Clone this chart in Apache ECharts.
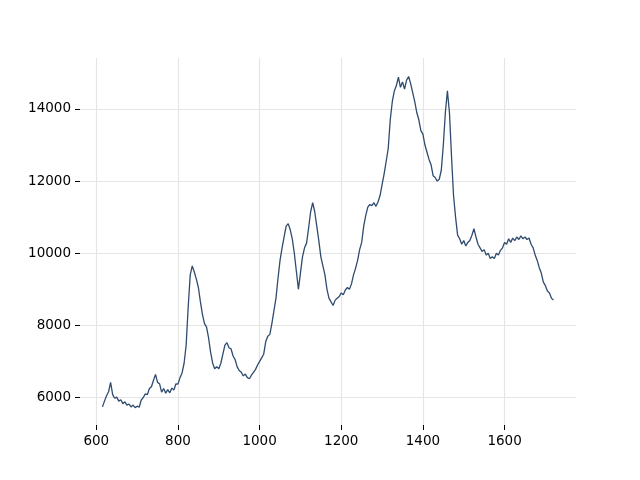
<!DOCTYPE html>
<html><head><meta charset="utf-8">
<script src="https://cdn.jsdelivr.net/npm/echarts@6/dist/echarts.min.js"></script>
<style>html,body{margin:0;padding:0;background:#fff}#c{width:640px;height:480px}</style>
</head><body><div id="c"></div>
<script>
var xValues = [
615,620,625,630,635,640,645,650,655,660,
665,670,675,680,685,690,695,700,705,710,
715,720,725,730,735,740,745,750,755,760,
765,770,775,780,785,790,795,800,805,810,
815,820,825,830,835,840,845,850,855,860,
865,870,875,880,885,890,895,900,905,910,
915,920,925,930,935,940,945,950,955,960,
965,970,975,980,985,990,995,1000,1005,1010,
1015,1020,1025,1030,1035,1040,1045,1050,1055,1060,
1065,1070,1075,1080,1085,1090,1095,1100,1105,1110,
1115,1120,1125,1130,1135,1140,1145,1150,1155,1160,
1165,1170,1175,1180,1185,1190,1195,1200,1205,1210,
1215,1220,1225,1230,1235,1240,1245,1250,1255,1260,
1265,1270,1275,1280,1285,1290,1295,1300,1305,1310,
1315,1320,1325,1330,1335,1340,1345,1350,1355,1360,
1365,1370,1375,1380,1385,1390,1395,1400,1405,1410,
1415,1420,1425,1430,1435,1440,1445,1450,1455,1460,
1465,1470,1475,1480,1485,1490,1495,1500,1505,1510,
1515,1520,1525,1530,1535,1540,1545,1550,1555,1560,
1565,1570,1575,1580,1585,1590,1595,1600,1605,1610,
1615,1620,1625,1630,1635,1640,1645,1650,1655,1660,
1665,1670,1675,1680,1685,1690,1695,1700,1705,1710,
1715,1720
];
var yValues = [
5740,5900,6050,6160,6420,6080,5980,6010,5900,5940,
5830,5880,5790,5820,5740,5790,5720,5760,5730,5930,
6000,6100,6080,6250,6300,6480,6640,6420,6380,6150,
6250,6120,6220,6130,6260,6210,6380,6370,6550,6680,
6950,7450,8500,9400,9650,9480,9280,9050,8650,8300,
8050,7950,7650,7250,6950,6800,6850,6800,6950,7200,
7450,7520,7380,7350,7150,7050,6850,6750,6700,6600,
6650,6550,6520,6620,6700,6780,6900,7000,7100,7200,
7550,7700,7750,8050,8400,8750,9300,9800,10150,10450,
10750,10820,10650,10400,10000,9500,9000,9450,9900,10150,
10280,10700,11150,11400,11150,10750,10350,9900,9650,9400,
9000,8750,8650,8550,8700,8750,8800,8900,8850,8980,
9050,9000,9150,9400,9580,9800,10100,10300,10750,11050,
11280,11350,11320,11400,11300,11420,11600,11900,12200,12550,
12900,13700,14200,14500,14650,14880,14600,14750,14550,14800,
14900,14700,14450,14200,13900,13700,13400,13300,13000,12800,
12600,12450,12150,12100,12000,12050,12300,13000,13900,14500,
13900,12700,11600,11000,10500,10400,10250,10350,10200,10300,
10350,10500,10680,10450,10250,10150,10050,10100,9950,10000,
9850,9900,9850,10000,9950,10080,10150,10300,10250,10400,
10300,10420,10350,10450,10380,10480,10400,10450,10380,10420,
10250,10150,9950,9800,9600,9450,9200,9100,8950,8900,
8750,8700
];
var xTicks = [600, 800, 1000, 1200, 1400, 1600];
var yTicks = [6000, 8000, 10000, 12000, 14000];

var data = xValues.map(function (x, i) { return [x, yValues[i]]; });
var chart = echarts.init(document.getElementById('c'), null, {renderer: 'canvas'});
var font = {fontFamily: 'DejaVu Sans', fontSize: 13.5, color: '#000'};
function plain(v) { return String(v); }
chart.setOption({
  animation: false,
  backgroundColor: '#fff',
  grid: {left: 80, right: 64, top: 58, bottom: 55, containLabel: false},
  xAxis: {
    type: 'value', min: 560, max: 1775,
    axisLine: {show: false},
    axisTick: {show: true, customValues: xTicks, length: 5, lineStyle: {color: '#000', width: 1}},
    axisLabel: Object.assign({customValues: xTicks, margin: 9, formatter: plain}, font),
    splitLine: {show: true, lineStyle: {color: '#e5e5e5', width: 1.2}}
  },
  yAxis: {
    type: 'value', min: 5238, max: 15412,
    axisLine: {show: false},
    axisTick: {show: true, customValues: yTicks, length: 5, lineStyle: {color: '#000', width: 1}},
    axisLabel: Object.assign({customValues: yTicks, margin: 9, formatter: plain}, font),
    splitLine: {show: true, lineStyle: {color: '#e5e5e5', width: 1.2}}
  },
  series: [{
    type: 'line', data: data, showSymbol: false, symbol: 'none',
    lineStyle: {color: '#2f4b6e', width: 1.3}
  }]
});
</script></body></html>
